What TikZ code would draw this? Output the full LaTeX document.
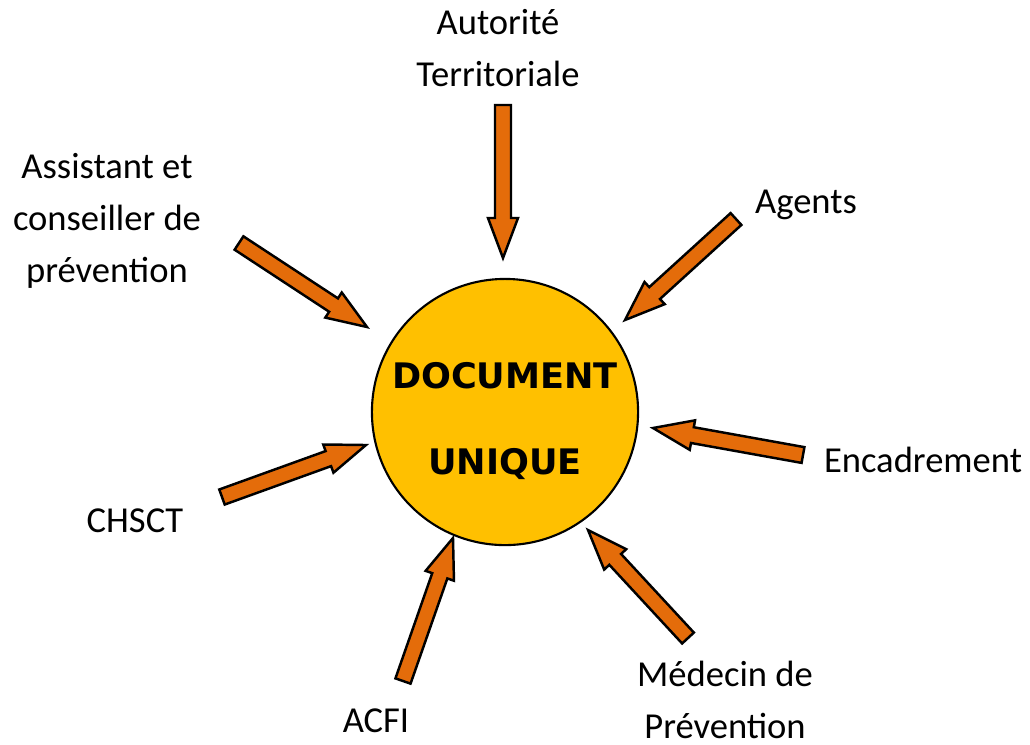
\documentclass[tikz,border=0pt]{standalone}
\usepackage{fontspec}
\setmainfont{Carlito}
\newfontfamily\docfont{DejaVu Sans}
\usetikzlibrary{calc}

\definecolor{arroworange}{HTML}{E46C0A}
\definecolor{docyellow}{HTML}{FFC000}

\begin{document}
\begin{tikzpicture}[
      x=0.01cm, y=-0.01cm,
      doc_circle/.style={circle, draw=black, line width=0.6pt, fill=docyellow, minimum size=2.66cm, inner sep=0pt},
      doc_text/.style={font=\docfont\bfseries\fontsize{10}{24.2}\selectfont, align=center, inner sep=0pt},
      actor/.style={font=\fontsize{10.4}{14.8}\selectfont, align=center, inner sep=0pt},
      block_arrow/.style={draw=black, line width=0.7pt, fill=arroworange, line join=miter}
    ]

      \useasboundingbox (0,0) rectangle (1030,744);

      % Central circle
      \node[doc_circle] (doc) at (505,412) {};
      \node[doc_text] (doc_label) at ([yshift=-0.09cm]doc.center) {DOCUMENT\\UNIQUE};

      % Actors around the document
      \node[actor] (autorite) at (498,48) {Autorité\\Territoriale};
      \node[actor] (assistant) at (107,221) {Assistant et\\conseiller de\\prévention};
      \node[actor] (agents) at (806,205) {Agents};
      \node[actor] (encadrement) at (923,460) {Encadrement};
      \node[actor] (chsct) at (135,521) {CHSCT};
      \node[actor] (acfi) at (376,721) {ACFI};
      \node[actor] (medecin) at (725,700) {Médecin de\\Prévention};

      % Arrow ends (tail near the actor, head near the circle)
      \coordinate (autorite_tail) at (503,105);
      \coordinate (autorite_head) at (503,258);
      \coordinate (agents_tail) at (736,219);
      \coordinate (agents_head) at (625,320);
      \coordinate (assistant_tail) at (239,243);
      \coordinate (assistant_head) at (367,327);
      \coordinate (encadrement_tail) at (803,455);
      \coordinate (encadrement_head) at (653,428);
      \coordinate (chsct_tail) at (222,497);
      \coordinate (chsct_head) at (366,445);
      \coordinate (acfi_tail) at (403,681);
      \coordinate (acfi_head) at (453,538);
      \coordinate (medecin_tail) at (688,638);
      \coordinate (medecin_head) at (588,530);

      % Block arrows towards the document
      \foreach \src in {autorite, agents, assistant, encadrement, chsct, acfi, medecin} {
        \coordinate (base) at ($(\src_head)!0.4cm!(\src_tail)$);
        \draw[block_arrow]
          ($(\src_tail)!0.08cm!90:(\src_head)$) --
          ($(base)!0.08cm!90:(\src_head)$) --
          ($(base)!0.15cm!90:(\src_head)$) --
          (\src_head) --
          ($(base)!0.15cm!-90:(\src_head)$) --
          ($(base)!0.08cm!-90:(\src_head)$) --
          ($(\src_tail)!0.08cm!-90:(\src_head)$) -- cycle;
      }

    \end{tikzpicture}
\end{document}
